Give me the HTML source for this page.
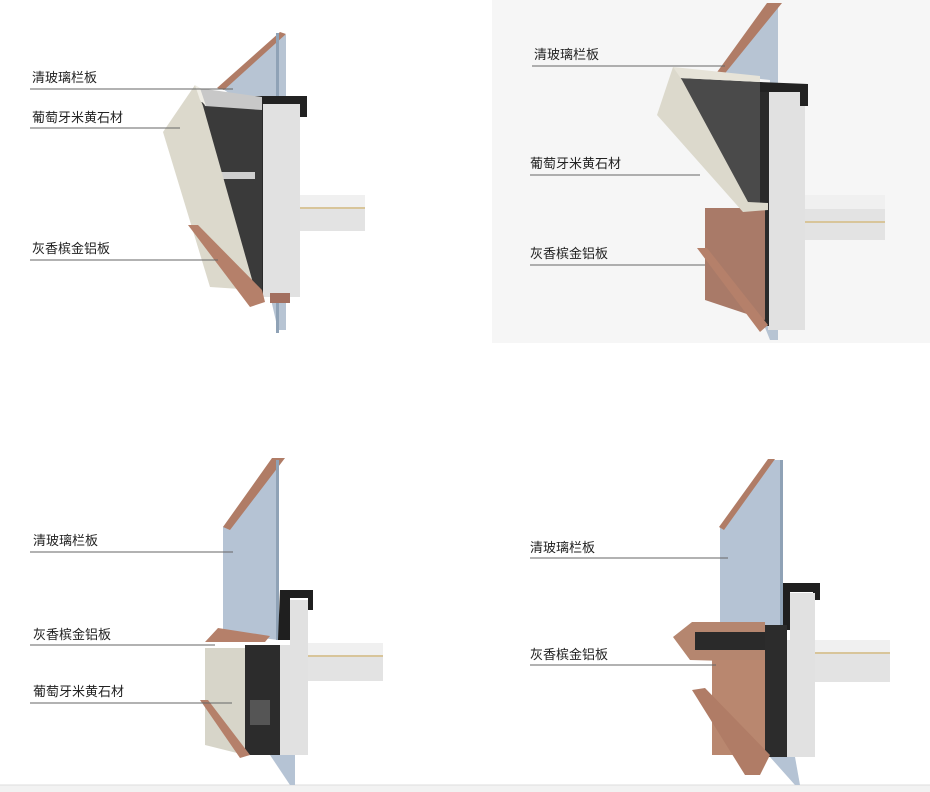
<!DOCTYPE html>
<html><head><meta charset="utf-8"><style>
body{margin:0;background:#fff;}
svg{display:block}
text{font-family:"Liberation Sans","Noto Sans CJK SC",sans-serif;font-size:13px;fill:#222}
</style></head><body>
<svg width="930" height="792" viewBox="0 0 930 792" xmlns="http://www.w3.org/2000/svg">
<rect x="0" y="0" width="930" height="792" fill="#fff"/>
<rect x="492" y="0" width="438" height="343" fill="#f6f6f6"/>
<rect x="0" y="785" width="930" height="7" fill="#f2f2f2"/>
<line x1="0" y1="785" x2="930" y2="785" stroke="#ddd"/>

<!-- PANEL 1 -->
<g>
<polygon points="220,87 280,33 286,35 286,330 278,330 270,295 277,100 236,98" fill="#b7c4d3"/>
<polygon points="217,88 280,32 286,34 224,90" fill="#b07c66"/>
<rect x="276" y="33" width="3" height="300" fill="#8fa2b6"/>
<rect x="262" y="100" width="38" height="197" fill="#e1e1e1"/>
<polygon points="255,96 307,96 307,117 300,117 300,104 255,104" fill="#222"/>
<rect x="254" y="104" width="9" height="190" fill="#2a2a2a"/>
<polygon points="200,102 262,102 262,290 225,285" fill="#3a3a3a"/>
<rect x="215" y="172" width="40" height="7" fill="#cfcfcf"/>
<polygon points="198,88 262,97 262,110 205,106" fill="#c8c8c8"/>
<polygon points="195,85 163,132 210,287 255,290 203,106" fill="#dcd9cc"/>
<polygon points="195,85 200,88 206,106 200,100" fill="#f0eee6"/>
<polygon points="188,225 198,225 262,290 265,302 250,307" fill="#b5806a"/>
<rect x="300" y="195" width="65" height="36" fill="#e3e3e3"/>
<rect x="300" y="195" width="65" height="12" fill="#f0f0f0"/>
<line x1="300" y1="208" x2="365" y2="208" stroke="#d8c59a" stroke-width="2"/>
<rect x="270" y="293" width="20" height="10" fill="#a37060"/>
</g>
<line x1="30" y1="89" x2="233" y2="89" stroke="#666" stroke-width="1"/>
<line x1="30" y1="128" x2="180" y2="128" stroke="#666" stroke-width="1"/>
<line x1="30" y1="260" x2="218" y2="260" stroke="#666" stroke-width="1"/>
<text x="32" y="82">清玻璃栏板</text>
<text x="32" y="122">葡萄牙米黄石材</text>
<text x="32" y="253">灰香槟金铝板</text>

<!-- PANEL 2 -->
<g>
<polygon points="718,74 770,3 778,3 778,340 770,340 762,320 770,80" fill="#b7c4d3"/>
<polygon points="715,75 767,3 782,3 722,77" fill="#b07c66"/>
<rect x="768" y="85" width="37" height="245" fill="#e1e1e1"/>
<polygon points="760,82 808,84 808,106 800,106 800,92 760,92" fill="#222"/>
<rect x="760" y="92" width="9" height="234" fill="#2a2a2a"/>
<polygon points="705,208 765,208 765,320 705,300" fill="#a97a68"/>
<polygon points="697,248 707,248 768,325 760,332" fill="#b5806a"/>
<polygon points="680,78 760,82 760,205 745,205" fill="#4a4a4a"/>
<polygon points="673,67 760,76 760,82 680,78" fill="#e6e3d8"/>
<polygon points="673,67 657,115 743,212 768,210 768,203 748,202 682,80" fill="#dcd9cc"/>
<rect x="805" y="195" width="80" height="45" fill="#e3e3e3"/>
<rect x="805" y="195" width="80" height="14" fill="#f0f0f0"/>
<line x1="805" y1="222" x2="885" y2="222" stroke="#d8c59a" stroke-width="2"/>
</g>
<line x1="532" y1="66" x2="725" y2="66" stroke="#666"/>
<line x1="530" y1="175" x2="700" y2="175" stroke="#666"/>
<line x1="530" y1="265" x2="705" y2="265" stroke="#666"/>
<text x="534" y="59">清玻璃栏板</text>
<text x="530" y="168">葡萄牙米黄石材</text>
<text x="530" y="258">灰香槟金铝板</text>

<!-- PANEL 3 -->
<g>
<polygon points="223,527 272,460 278,460 278,640 223,633" fill="#b5c3d4"/>
<polygon points="223,527 272,458 285,458 230,530" fill="#b07c66"/>
<rect x="276" y="460" width="3" height="180" fill="#8fa2b6"/>
<polygon points="280,590 313,590 313,610 308,610 308,598 290,598 290,640 278,640" fill="#1f1f1f"/>
<polygon points="290,600 308,600 308,755 278,755 278,645 290,645" fill="#e1e1e1"/>
<rect x="245" y="645" width="35" height="110" fill="#2c2c2c"/>
<polygon points="205,642 265,642 270,636 218,628" fill="#b5806a"/>
<polygon points="205,648 245,648 245,755 205,745" fill="#d7d5c9"/>
<polygon points="200,700 208,700 250,755 240,758" fill="#b5806a"/>
<rect x="250" y="700" width="20" height="25" fill="#555"/>
<rect x="308" y="643" width="75" height="38" fill="#e3e3e3"/>
<rect x="308" y="643" width="75" height="12" fill="#f0f0f0"/>
<line x1="308" y1="656" x2="383" y2="656" stroke="#d8c59a" stroke-width="2"/>
<polygon points="270,755 295,755 295,785 290,785" fill="#b5c3d4"/>
</g>
<line x1="30" y1="552" x2="233" y2="552" stroke="#666"/>
<line x1="30" y1="645" x2="215" y2="645" stroke="#666"/>
<line x1="30" y1="703" x2="232" y2="703" stroke="#666"/>
<text x="33" y="545">清玻璃栏板</text>
<text x="33" y="639">灰香槟金铝板</text>
<text x="33" y="696">葡萄牙米黄石材</text>

<!-- PANEL 4 -->
<g>
<polygon points="720,527 770,460 783,460 783,626 720,623" fill="#b5c3d4"/>
<polygon points="719,527 768,459 775,459 724,530" fill="#b07c66"/>
<rect x="780" y="460" width="3" height="166" fill="#8fa2b6"/>
<polygon points="783,583 820,583 820,600 813,600 813,592 790,592 790,630 783,630" fill="#1f1f1f"/>
<polygon points="790,593 815,593 815,757 782,757 782,640 790,640" fill="#e1e1e1"/>
<rect x="765" y="625" width="22" height="132" fill="#2c2c2c"/>
<polygon points="673,637 692,622 765,622 765,662 690,660" fill="#b5866f"/>
<rect x="695" y="632" width="70" height="18" fill="#2a2a2a"/>
<rect x="712" y="660" width="53" height="95" fill="#b9876f"/>
<polygon points="692,690 705,688 770,755 760,775 745,775" fill="#b07c66"/>
<rect x="815" y="640" width="75" height="42" fill="#e3e3e3"/>
<rect x="815" y="640" width="75" height="12" fill="#f0f0f0"/>
<line x1="815" y1="653" x2="890" y2="653" stroke="#d8c59a" stroke-width="2"/>
<polygon points="770,757 795,757 800,785 795,785" fill="#b5c3d4"/>
</g>
<line x1="530" y1="558" x2="728" y2="558" stroke="#666"/>
<line x1="530" y1="665" x2="716" y2="665" stroke="#666"/>
<text x="530" y="552">清玻璃栏板</text>
<text x="530" y="659">灰香槟金铝板</text>
</svg>
</body></html>
